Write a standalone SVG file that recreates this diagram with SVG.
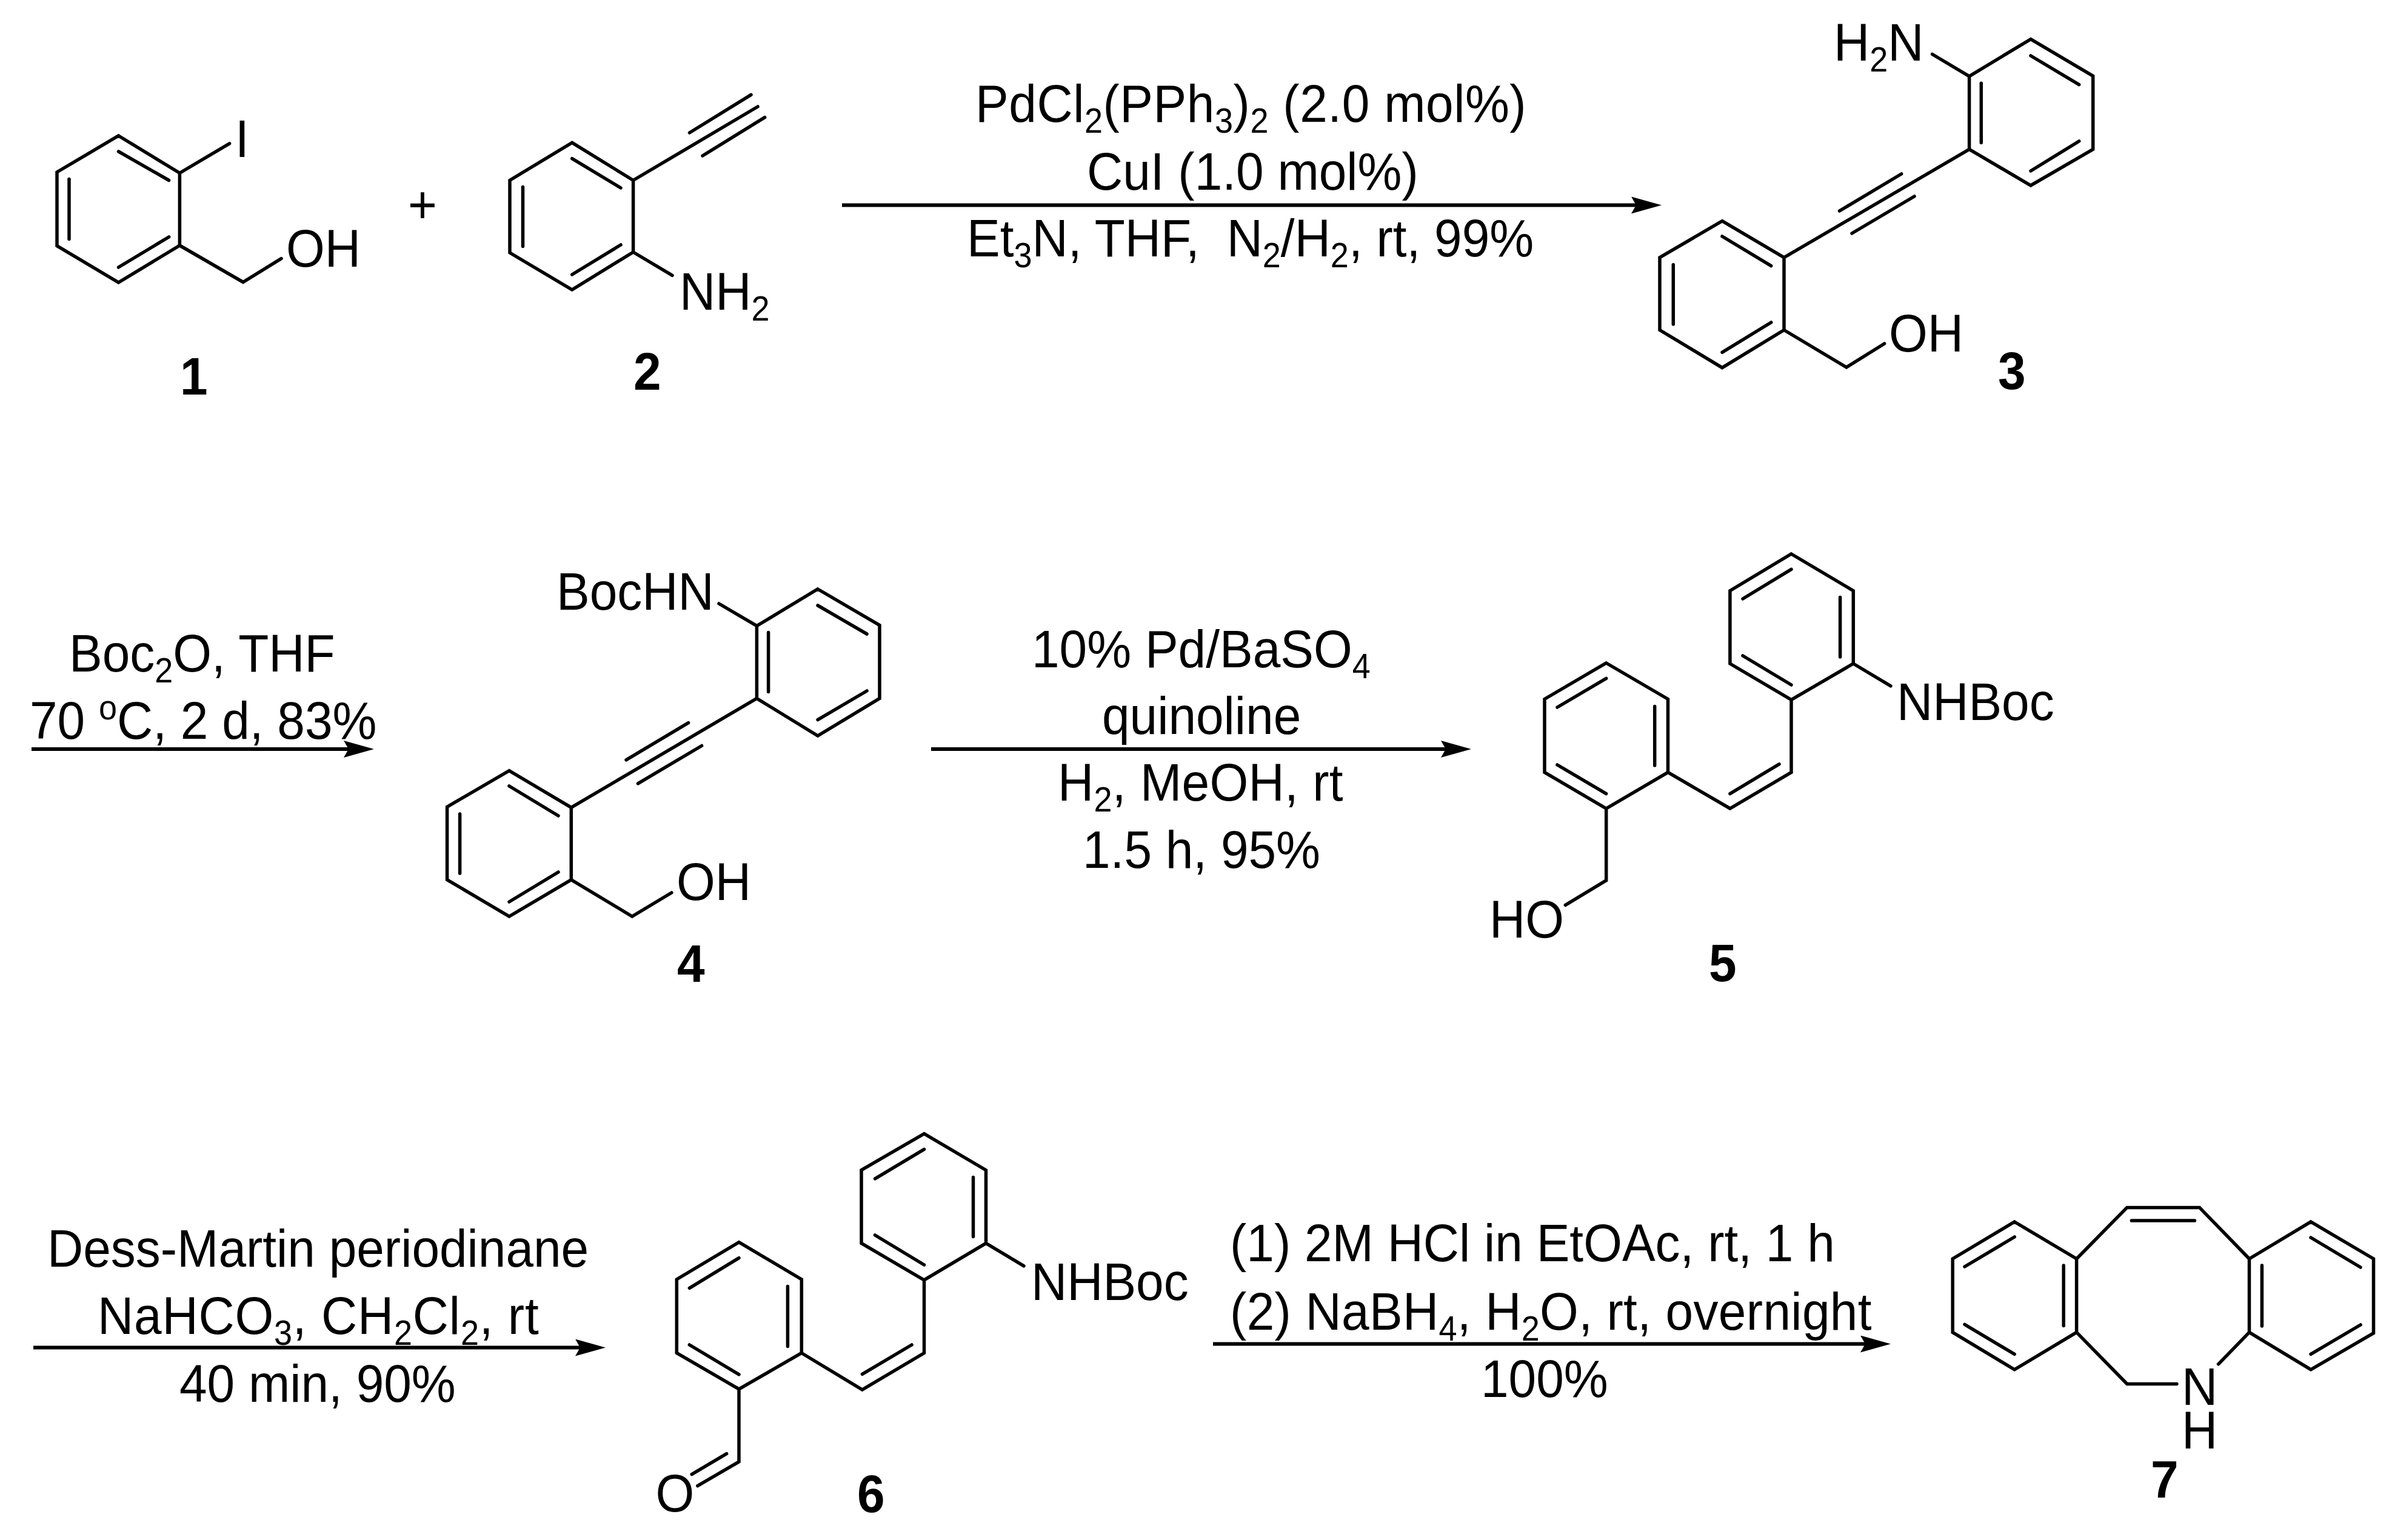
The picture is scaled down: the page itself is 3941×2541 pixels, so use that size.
<svg xmlns="http://www.w3.org/2000/svg" width="3941" height="2541" viewBox="0 0 3941 2541">
<style>
text{font-family:"Liberation Sans",Arial,sans-serif;font-size:82px;fill:#000}
.s{font-size:54px}
.n{font-weight:bold}
.b{fill:none;stroke:#000;stroke-width:5.5;stroke-linecap:round;stroke-linejoin:miter}
.a{fill:none;stroke:#000;stroke-width:6}
</style>
<defs>
<marker id="ah" markerUnits="userSpaceOnUse" markerWidth="50" markerHeight="28" viewBox="0 0 50 28" refX="8" refY="14" orient="auto"><polygon points="0,0 50,14 0,28 8,14" fill="#000"/></marker>
</defs>
<rect width="3941" height="2541" fill="#fff"/>
<g id="connectors">
<line class="a" x1="1389" y1="338.500" x2="2699" y2="338.500" marker-end="url(#ah)"/>
<line class="a" x1="52" y1="1236" x2="575" y2="1236" marker-end="url(#ah)"/>
<line class="a" x1="1536" y1="1236" x2="2385" y2="1236" marker-end="url(#ah)"/>
<line class="a" x1="55" y1="2223.500" x2="957" y2="2223.500" marker-end="url(#ah)"/>
<line class="a" x1="2001" y1="2217.500" x2="3077" y2="2217.500" marker-end="url(#ah)"/>
</g>
<g id="plus"><text transform="matrix(1 0 0 1.06 673 368)">+</text></g>
<g id="compound-1">
<path class="b" d="M195.500 224L296.400 285.500V405L195.500 466L94 405.600V284ZM195.500 250L278.600 297.500M114 295.600V394.600M195.500 441L278.600 391M296.400 285.500L378.600 236.800M296.400 405L401 465.500L464 426.600"/>
<text transform="matrix(1 0 0 1.06 388 259)">I</text><text transform="matrix(1 0 0 1.06 472 440)">OH</text><text class="n" transform="matrix(1 0 0 1.06 297 651)">1</text>
</g>
<g id="compound-2">
<path class="b" d="M943.700 235.400L1044.600 297.500V416L943.700 478L841 417V297.500ZM943.700 261.600L1024 310M862.500 308.500V406.500M943.700 453L1024 404M1044.600 297.500L1250 176M1137.500 219L1239 156.400M1159 257L1261.600 193.700M1044.600 416L1109 454.400"/>
<text transform="matrix(1 0 0 1.06 1121 511)">NH<tspan class="s" dy="17">2</tspan></text><text class="n" transform="matrix(1 0 0 1.06 1045 643)">2</text>
</g>
<g id="conditions-1">
<text transform="matrix(1 0 0 1.06 1609 201)" letter-spacing=".55">PdCl<tspan class="s" dy="17">2</tspan><tspan dy="-17">(PPh</tspan><tspan class="s" dy="17">3</tspan><tspan dy="-17">)</tspan><tspan class="s" dy="17">2</tspan><tspan dy="-17"> (2.0 mol%)</tspan></text>
<text transform="matrix(1 0 0 1.06 1793 313)">CuI (1.0 mol%)</text>
<text transform="matrix(1 0 0 1.06 1595 423)">Et<tspan class="s" dy="17">3</tspan><tspan dy="-17">N, THF, </tspan><tspan dx="22">N</tspan><tspan class="s" dy="17">2</tspan><tspan dy="-17">/H</tspan><tspan class="s" dy="17">2</tspan><tspan dy="-17">, rt, 99%</tspan></text>
</g>
<g id="compound-3">
<path class="b" d="M3350 64.600L3452.700 125.300V246.400L3350 306L3248.600 246.400V125.800ZM3350 92L3429.700 139.700M3268.300 137.300V235.400M3350 282L3429.700 233M3248.600 125.800L3187.600 89.500M3248.600 246.400L2943 424.900M3034.500 348L3136.600 287M3055 385L3158 324M2841 364.600L2943 424.900V544.500L2841 606.700L2738 544.500V424.900ZM2841 390L2921.700 438.600M2760.300 436.800V535M2841 581.300L2921.700 532M2943 544.500L3046 606L3108.600 567"/>
<text transform="matrix(1 0 0 1.06 3025 99.500)">H<tspan class="s" dy="17">2</tspan><tspan dy="-17">N</tspan></text><text transform="matrix(1 0 0 1.06 3116 580)">OH</text><text class="n" transform="matrix(1 0 0 1.06 3296 642)">3</text>
</g>
<g id="conditions-2">
<text transform="matrix(1 0 0 1.06 114 1107.500)">Boc<tspan class="s" dy="17">2</tspan><tspan dy="-17">O, THF</tspan></text>
<text transform="matrix(1 0 0 1.06 49 1218.500)">70 <tspan class="s" dy="-30">o</tspan><tspan dy="30">C, 2 d, 83%</tspan></text>
</g>
<g id="compound-4">
<path class="b" d="M1349 972L1451 1031.600V1152.400L1349 1214L1248.400 1152.400V1032.700ZM1349 999L1430 1046M1267.600 1043.500V1141.600M1349 1187.700L1430 1140M1248.400 1032.700L1186 996M1248.400 1152.400L942.300 1332.400M1033 1253.800L1135.600 1192.600M1052.400 1292.800L1157.600 1230.500M840 1271.700L942.300 1332.400V1451.600L840 1512L737.600 1451.600V1331.300ZM840 1297L921 1346M758.600 1343V1441M840 1488L921 1439M942.300 1451.600L1042.800 1512L1107.800 1473"/>
<text transform="matrix(1 0 0 1.06 918 1006)">BocHN</text><text transform="matrix(1 0 0 1.06 1116 1485)">OH</text><text class="n" transform="matrix(1 0 0 1.06 1117 1620)">4</text>
</g>
<g id="conditions-3">
<text transform="matrix(1 0 0 1.06 1702 1100.500)">10% Pd/BaSO<tspan class="s" dy="17">4</tspan></text>
<text transform="matrix(1 0 0 1.06 1818 1210.500)">quinoline</text>
<text transform="matrix(1 0 0 1.06 1745 1320.500)" letter-spacing=".3">H<tspan class="s" dy="17">2</tspan><tspan dy="-17">, MeOH, rt</tspan></text>
<text transform="matrix(1 0 0 1.06 1786 1431.500)">1.5 h, 95%</text>
</g>
<g id="compound-5">
<path class="b" d="M2955 914L3057.300 974.700V1095L2955 1154.600L2853.900 1095V974.700ZM2955 939.400L2875 988M3035.600 985.500V1084M2875 1082L2955 1130M3057.300 1095L3119 1131.800M2955 1154.600V1274.400L2853.900 1334L2751.500 1274.400M2935 1260.800L2853.900 1309.600M2649.700 1094L2751.500 1153.500V1274.400L2649.700 1334L2548 1274.400V1153.500ZM2649.700 1119.400L2569 1167M2729.700 1165.400V1263M2569 1262L2649.700 1309.600M2649.700 1334V1452.700L2582.400 1493.400"/>
<text transform="matrix(1 0 0 1.06 3129 1187.500)">NHBoc</text><text transform="matrix(1 0 0 1.06 2457 1546.500)">HO</text><text class="n" transform="matrix(1 0 0 1.06 2819 1618.500)">5</text>
</g>
<g id="conditions-4">
<text transform="matrix(1 0 0 1.06 78 2090)">Dess-Martin periodinane</text>
<text transform="matrix(1 0 0 1.06 161 2201)" letter-spacing=".8">NaHCO<tspan class="s" dy="17">3</tspan><tspan dy="-17">, CH</tspan><tspan class="s" dy="17">2</tspan><tspan dy="-17">Cl</tspan><tspan class="s" dy="17">2</tspan><tspan dy="-17">, rt</tspan></text>
<text transform="matrix(1 0 0 1.06 296 2312.500)">40 min, 90%</text>
</g>
<g id="compound-6">
<path class="b" d="M1524.500 1870.700L1626.500 1930.700V2051.400L1524.500 2112L1421 2051.400V1930.700ZM1524.500 1896.300L1443.500 1944.800M1605.500 1942.500V2040.400M1443.500 2038L1524.500 2087M1626.500 2051.400L1689 2088.900M1524.500 2112V2232.500L1422.400 2293L1322.300 2232.500M1504 2219L1422.400 2267.400M1219 2049.600L1322.300 2111V2232.500L1219 2292L1116.300 2232.500V2111ZM1219 2075.600L1137.400 2125.400M1299.400 2122.400V2221.500M1137.400 2219L1219 2267.800M1219 2292V2412L1150.800 2451.600M1198.600 2398.700L1141.200 2432.600"/>
<text transform="matrix(1 0 0 1.06 1701 2145)">NHBoc</text><text transform="matrix(1 0 0 1.06 1081.500 2494)">O</text><text class="n" transform="matrix(1 0 0 1.06 1414 2495)">6</text>
</g>
<g id="conditions-5">
<text transform="matrix(1 0 0 1.06 2029 2081)">(1) 2M HCl in EtOAc, rt, 1 h</text>
<text transform="matrix(1 0 0 1.06 2029 2193.500)" letter-spacing=".35">(2) NaBH<tspan class="s" dy="17">4</tspan><tspan dy="-17">, H</tspan><tspan class="s" dy="17">2</tspan><tspan dy="-17">O, rt, overnight</tspan></text>
<text transform="matrix(1 0 0 1.06 2443 2304.500)">100%</text>
</g>
<g id="compound-7">
<path class="b" d="M3323.200 2016L3425.600 2077V2198.400L3323.200 2259.800L3221.200 2198.400V2077ZM3323.200 2041L3241 2090M3404.200 2088V2187.400M3241 2185.400L3323.200 2234.400M3425.600 2077L3508.800 1992.400H3628.400L3710.500 2077M3516.300 2014H3620.400M3710.500 2077L3812 2016L3915.500 2077V2199.700L3812 2259.800L3710.500 2198.400ZM3812 2042L3894 2091M3731.400 2088V2188M3894 2186L3812 2234.400M3425.600 2198.400L3508.800 2283.500H3590.900M3710.500 2198.400L3659.500 2250.800"/>
<text transform="matrix(1 0 0 1.06 3599 2317.500)">N</text><text transform="matrix(1 0 0 1.06 3599 2390)">H</text><text class="n" transform="matrix(1 0 0 1.06 3548 2471)">7</text>
</g>
</svg>
